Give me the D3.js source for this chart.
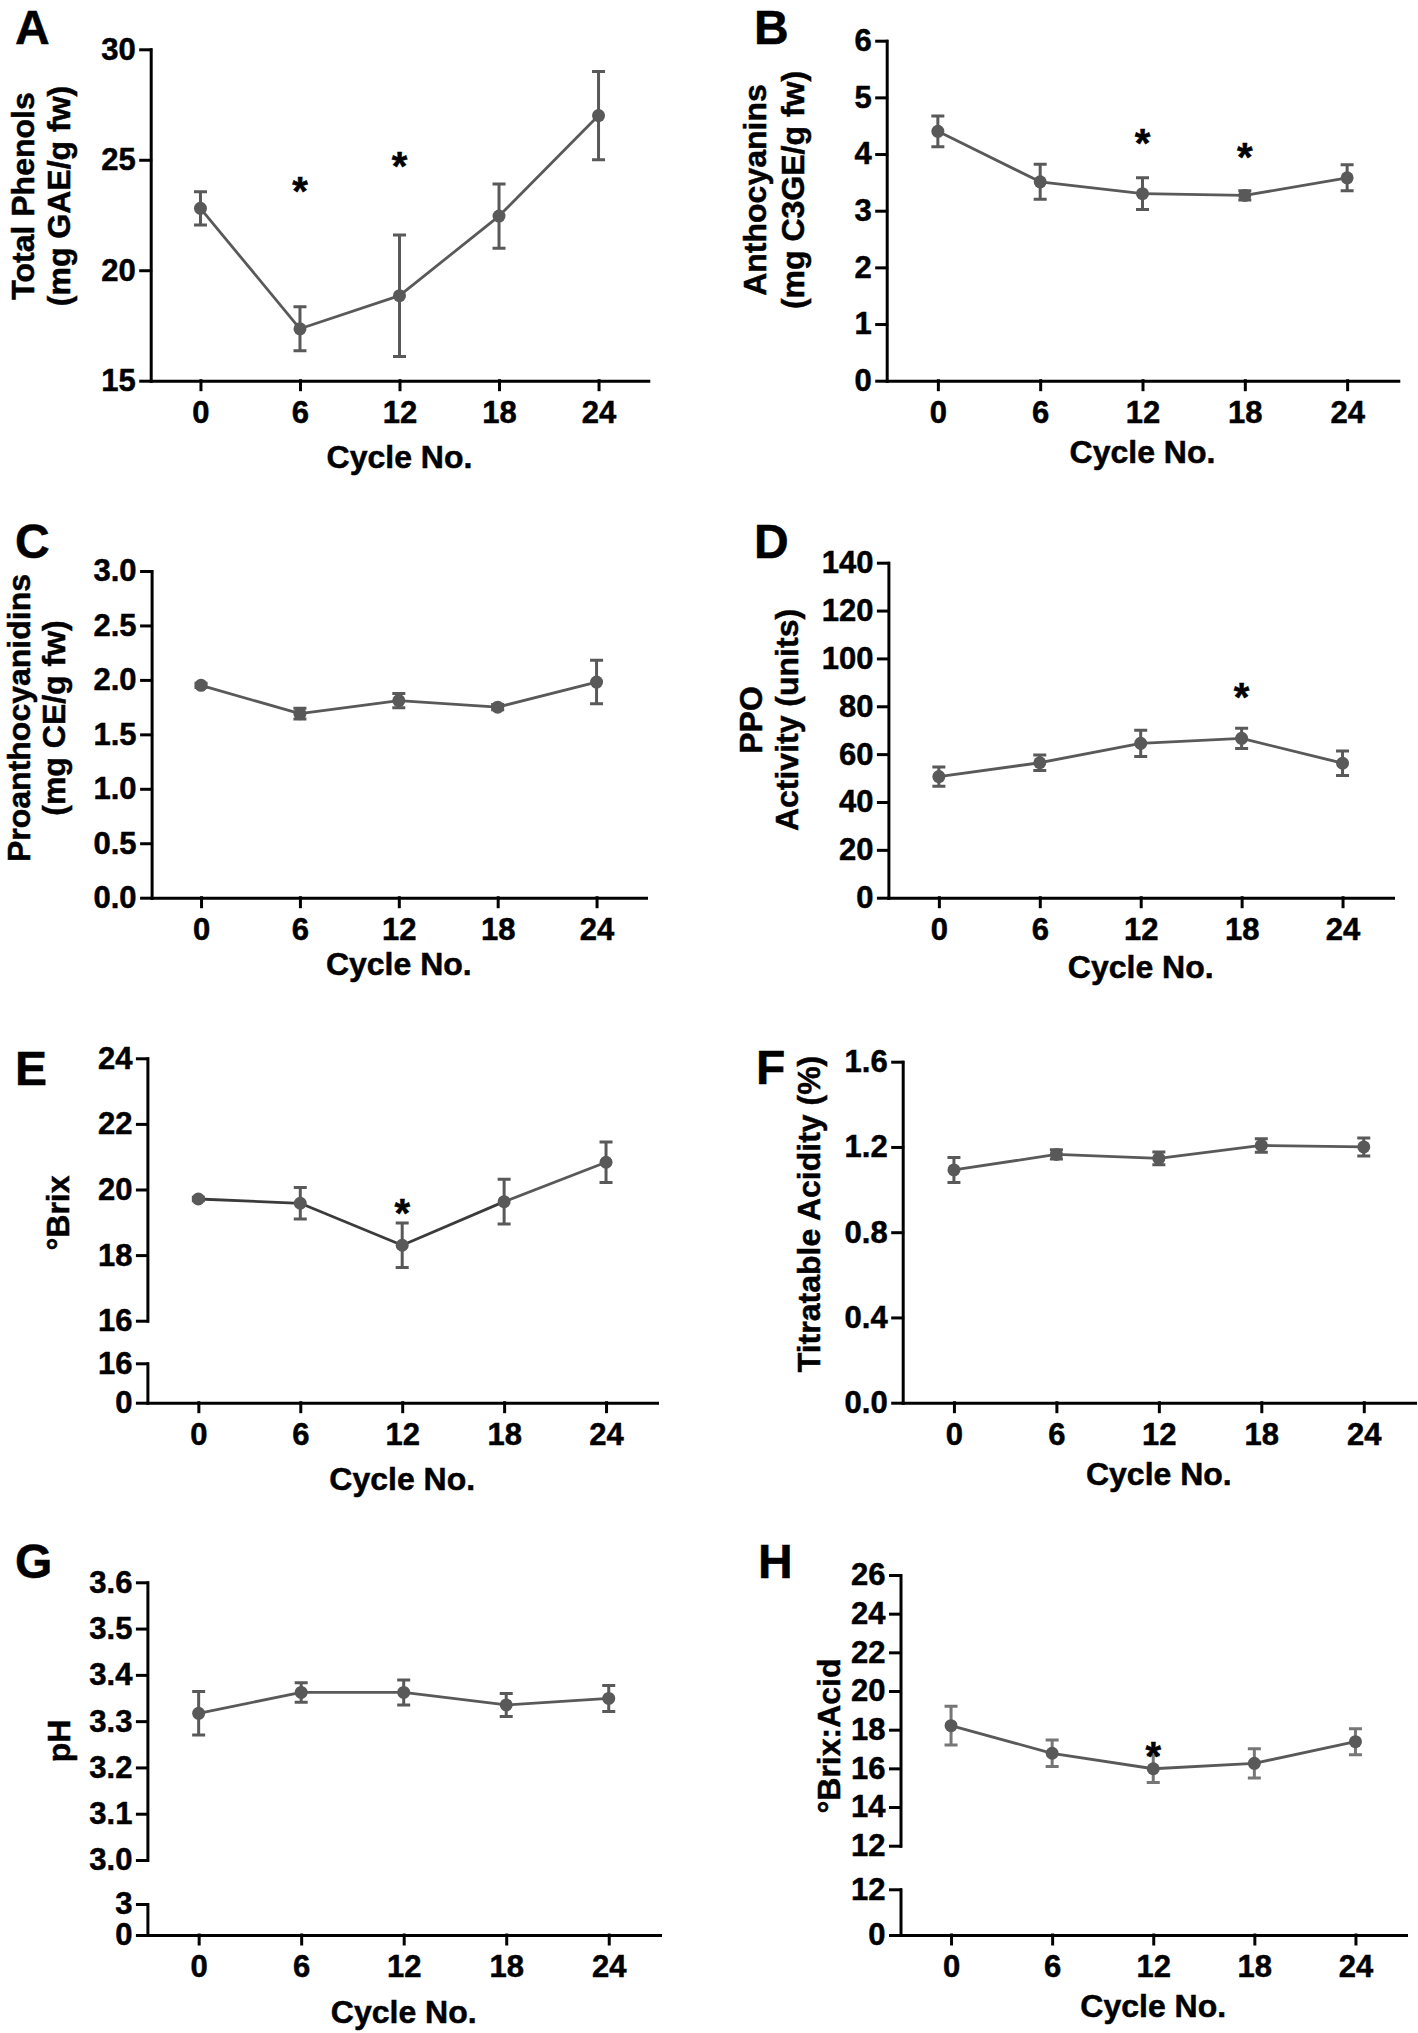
<!DOCTYPE html>
<html>
<head>
<meta charset="utf-8">
<script src="https://cdn.jsdelivr.net/npm/d3@7"></script>
<style>
  body { margin: 0; background: #fff; }
  svg { display: block; background: #fff; }
  .axis path, .axis line { stroke: #000; stroke-width: 3; stroke-linecap: square; }
  .axis text { font-family: "Liberation Sans", Arial, sans-serif; font-weight: bold; font-size: 31px; fill: #000; stroke: #000; stroke-width: 0.5px; }
  .lbl { font-family: "Liberation Sans", Arial, sans-serif; font-weight: bold; fill: #000; stroke: #000; stroke-width: 0.5px; }
</style>
</head>
<body>
<div id="chart"></div>
<script>
// cycle numbers on the x axis
var cycles = [0, 6, 12, 18, 24];

// A: total phenols
var phenols = [22.8, 17.35, 18.85, 22.45, 27.0];
var phenolsErr = [0.75, 1.0, 2.75, 1.45, 2.0];
var phenolsTicks = [15, 20, 25, 30];
var phenolsStars = [{c: 6, v: 23.7}, {c: 12, v: 24.85}];

// B: anthocyanins
var antho = [4.4, 3.51, 3.3, 3.27, 3.58];
var anthoErr = [0.27, 0.31, 0.28, 0.08, 0.23];
var anthoTicks = [0, 1, 2, 3, 4, 5, 6];
var anthoStars = [{c: 12, v: 4.24}, {c: 18, v: 4.0}];

// C: proanthocyanidins
var proantho = [1.95, 1.69, 1.81, 1.75, 1.98];
var proanthoErr = [0.02, 0.05, 0.065, 0.025, 0.2];
var proanthoTicks = [0, 0.5, 1.0, 1.5, 2.0, 2.5, 3.0];

// D: PPO activity
var ppo = [50.6, 56.4, 64.5, 66.6, 56.2];
var ppoErr = [4.0, 3.2, 5.5, 4.2, 5.1];
var ppoTicks = [0, 20, 40, 60, 80, 100, 120, 140];
var ppoStars = [{c: 18, v: 85}];

// E: Brix
var brix = [19.71, 19.58, 18.3, 19.63, 20.83];
var brixErr = [0.05, 0.48, 0.68, 0.68, 0.62];
var brixTicks = [16, 18, 20, 22, 24];
var brixTicksLow = [0, 16];
var brixStars = [{c: 12, v: 19.38}];

// F: titratable acidity
var acidity = [1.092, 1.165, 1.146, 1.207, 1.2];
var acidityErr = [0.059, 0.022, 0.03, 0.032, 0.042];
var acidityTicks = [0, 0.4, 0.8, 1.2, 1.6];

// G: pH
var ph = [3.317, 3.362, 3.362, 3.335, 3.349];
var phErr = [0.047, 0.021, 0.027, 0.025, 0.028];
var phTicks = [3.0, 3.1, 3.2, 3.3, 3.4, 3.5, 3.6];
var phTicksLow = [0, 3];

// H: Brix:acid ratio
var ratio = [18.21, 16.78, 15.98, 16.26, 17.38];
var ratioErr = [1.0, 0.69, 0.71, 0.76, 0.67];
var ratioTicks = [12, 14, 16, 18, 20, 22, 24, 26];
var ratioTicksLow = [0, 12];
var ratioStars = [{c: 12, v: 16.8}];

var f1 = d3.format(".1f"), fd = d3.format("d");
var grey = "#595959";
var starSize = 40;

var svg = d3.select("#chart").append("svg")
    .attr("width", 1418)
    .attr("height", 2033);

var panels = [
  {letter: "A", lx: 15, ly: 44, vals: phenols, errs: phenolsErr, stars: phenolsStars,
   left: 150.7, right: 648.3,
   segs: [{dom: [15, 30], rng: [380.7, 49.3], ticks: phenolsTicks, fmt: fd}],
   title: ["Total Phenols", "(mg GAE/g fw)"], tx: [34, 70], ty: 196, xty: 468},
  {letter: "B", lx: 754, ly: 44, vals: antho, errs: anthoErr, stars: anthoStars,
   left: 886.7, right: 1398.3,
   segs: [{dom: [0, 6], rng: [380.7, 40.7], ticks: anthoTicks, fmt: fd}],
   title: ["Anthocyanins", "(mg C3GE/g fw)"], tx: [766, 804], ty: 190, xty: 463},
  {letter: "C", lx: 15, ly: 558, vals: proantho, errs: proanthoErr, stars: [],
   left: 151.6, right: 646,
   segs: [{dom: [0, 3], rng: [897.7, 571], ticks: proanthoTicks, fmt: f1}],
   title: ["Proanthocyanidins", "(mg CE/g fw)"], tx: [30, 65], ty: 718, xty: 975},
  {letter: "D", lx: 754, ly: 558, vals: ppo, errs: ppoErr, stars: ppoStars,
   left: 888.4, right: 1393,
   segs: [{dom: [0, 140], rng: [897.7, 562.7], ticks: ppoTicks, fmt: fd}],
   title: ["PPO", "Activity (units)"], tx: [762, 798], ty: 720, xty: 978},
  {letter: "E", lx: 15, ly: 1085, vals: brix, errs: brixErr, stars: brixStars,
   left: 147.4, right: 657, dark: true,
   segs: [{dom: [16, 24], rng: [1320.7, 1058.3], ticks: brixTicks, fmt: fd},
          {dom: [0, 16], rng: [1402.7, 1363.3], ticks: brixTicksLow, fmt: fd}],
   title: ["\u00B0Brix"], tx: [69], ty: 1213, xty: 1490},
  {letter: "F", lx: 756, ly: 1084, vals: acidity, errs: acidityErr, stars: [],
   left: 902.7, right: 1415,
   segs: [{dom: [0, 1.6], rng: [1402.7, 1061.7], ticks: acidityTicks, fmt: f1}],
   title: ["Titratable Acidity (%)"], tx: [820], ty: 1214, xty: 1485},
  {letter: "G", lx: 15, ly: 1578, vals: ph, errs: phErr, stars: [],
   left: 147.4, right: 660,
   segs: [{dom: [3.0, 3.6], rng: [1860, 1582.3], ticks: phTicks, fmt: f1},
          {dom: [0, 3], rng: [1935, 1904], ticks: phTicksLow, fmt: fd}],
   title: ["pH"], tx: [70], ty: 1741, xty: 2023},
  {letter: "H", lx: 758, ly: 1578, vals: ratio, errs: ratioErr, stars: ratioStars,
   left: 900.5, right: 1406, barColor: "#767676",
   segs: [{dom: [12, 26], rng: [1845.7, 1575], ticks: ratioTicks, fmt: fd},
          {dom: [0, 12], rng: [1935, 1889.3], ticks: ratioTicksLow, fmt: fd}],
   title: ["\u00B0Brix:Acid"], tx: [840], ty: 1736, xty: 2017}
];

panels.forEach(function(p) {
  var g = svg.append("g");
  var x = d3.scaleLinear().domain([-3, 27]).range([p.left, p.right]);
  var y = d3.scaleLinear().domain(p.segs[0].dom).range(p.segs[0].rng);
  var base = p.segs[p.segs.length - 1].rng[0];

  // y axis (one or two segments)
  p.segs.forEach(function(s) {
    var ys = d3.scaleLinear().domain(s.dom).range(s.rng);
    g.append("g")
        .attr("class", "axis")
        .attr("transform", `translate(${p.left},0)`)
        .call(d3.axisLeft(ys).tickValues(s.ticks).tickFormat(s.fmt)
              .tickSize(10).tickSizeOuter(0).tickPadding(5));
  });

  // x axis
  g.append("g")
      .attr("class", "axis")
      .attr("transform", `translate(0,${base})`)
      .call(d3.axisBottom(x).tickValues(cycles).tickFormat(fd)
            .tickSize(9).tickSizeOuter(0).tickPadding(11));

  var pts = cycles.map(function(c, i) { return {c: c, v: p.vals[i], e: p.errs[i]}; });

  // connecting line
  var segCol = function(i) { return p.dark && i < 3 ? "#3b3b3b" : grey; };
  d3.pairs(pts).forEach(function(pair, i) {
    g.append("line")
        .attr("x1", x(pair[0].c)).attr("y1", y(pair[0].v))
        .attr("x2", x(pair[1].c)).attr("y2", y(pair[1].v))
        .attr("stroke", segCol(i))
        .attr("stroke-width", 2.8);
  });

  // error bars
  var bc = p.barColor || grey;
  g.selectAll(".err").data(pts).enter().append("path")
      .attr("d", function(d) {
        var cx = x(d.c), y0 = y(d.v - d.e), y1 = y(d.v + d.e);
        return `M${cx},${y0}V${y1}M${cx - 6.5},${y1}H${cx + 6.5}M${cx - 6.5},${y0}H${cx + 6.5}`;
      })
      .attr("fill", "none")
      .attr("stroke", bc)
      .attr("stroke-width", 3);

  // markers
  g.selectAll(".pt").data(pts).enter().append("circle")
      .attr("cx", function(d) { return x(d.c); })
      .attr("cy", function(d) { return y(d.v); })
      .attr("r", 6.5)
      .attr("fill", grey);

  // significance stars
  g.selectAll(".star").data(p.stars).enter().append("text")
      .attr("class", "lbl")
      .attr("x", function(d) { return x(d.c); })
      .attr("y", function(d) { return y(d.v) + 0.42 * starSize; })
      .attr("text-anchor", "middle")
      .attr("font-size", starSize + "px")
      .text("*");

  // y title
  p.title.forEach(function(t, i) {
    g.append("text")
        .attr("class", "lbl")
        .attr("transform", `translate(${p.tx[i]},${p.ty}) rotate(-90)`)
        .attr("text-anchor", "middle")
        .attr("font-size", "32px")
        .text(t);
  });

  // x title
  g.append("text")
      .attr("class", "lbl")
      .attr("x", (x(0) + x(24)) / 2)
      .attr("y", p.xty)
      .attr("text-anchor", "middle")
      .attr("font-size", "32px")
      .text("Cycle No.");

  // panel letter
  g.append("text")
      .attr("class", "lbl")
      .attr("x", p.lx)
      .attr("y", p.ly)
      .attr("font-size", "48px")
      .text(p.letter);
});
</script>
</body>
</html>
